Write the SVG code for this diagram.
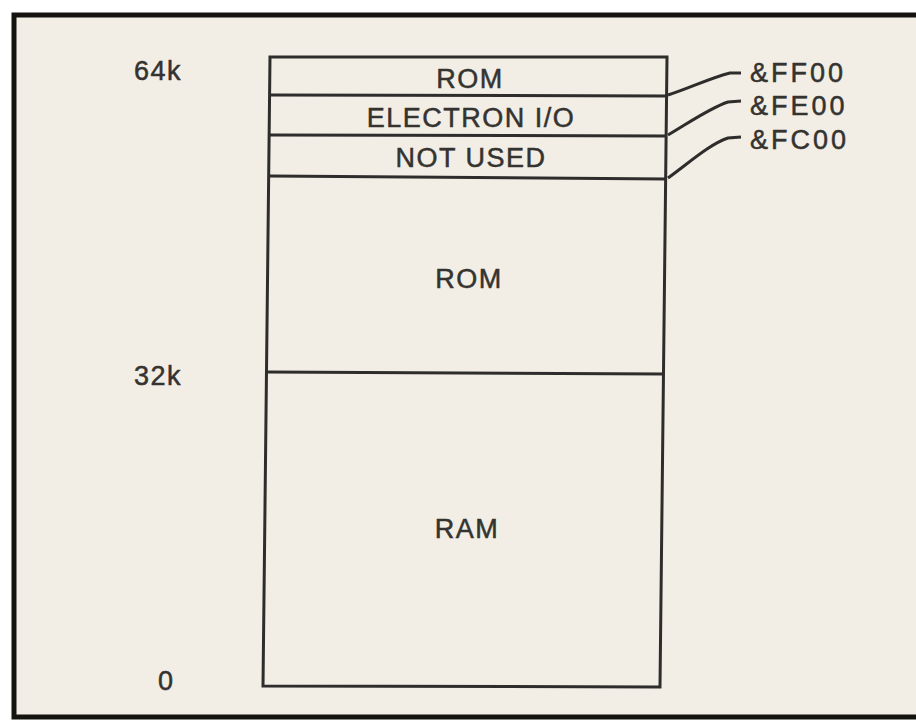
<svg xmlns="http://www.w3.org/2000/svg" width="916" height="721" viewBox="0 0 916 721">
<style>
.t{font-family:"Liberation Sans",Arial,sans-serif;font-size:27px;fill:#343330;stroke:#343330;stroke-width:0.5;letter-spacing:1.5px}
.m{text-anchor:middle}
.ln{fill:none;stroke:#2e2d2b;stroke-width:3}
</style>
<rect x="0" y="0" width="916" height="721" fill="#ffffff"/>
<rect x="14" y="15" width="910" height="702" fill="#f2eee6" stroke="#151310" stroke-width="5"/>
<g id="memory-box">
<path class="ln" d="M270,57 L667,57 L660,687 L263,686 Z"/>
</g>
<g id="rom-top"><line class="ln" x1="270" y1="95" x2="667" y2="96"/><text class="t m" x="470" y="88">ROM</text></g>
<g id="electron-io"><line class="ln" x1="270" y1="135" x2="667" y2="136"/><text class="t m" x="471" y="127">ELECTRON I/O</text></g>
<g id="not-used"><line class="ln" x1="270" y1="176" x2="666" y2="179"/><text class="t m" x="471" y="167">NOT USED</text></g>
<g id="rom"><line class="ln" x1="267" y1="372" x2="664" y2="374"/><text class="t m" x="469" y="288">ROM</text></g>
<g id="ram"><text class="t m" x="467" y="538">RAM</text></g>
<g id="axis-labels">
<text class="t" x="134" y="80">64k</text>
<text class="t" x="134" y="385">32k</text>
<text class="t" x="158" y="690">0</text>
</g>
<g id="connectors">
<path class="ln" d="M668,95 C690,88 710,78 730,73 L741,73"/>
<path class="ln" d="M668,135 C690,122 710,108 728,102 L741,101"/>
<path class="ln" d="M668,178 C690,162 710,144 728,138 L741,137"/>
</g>
<g id="address-labels">
<text class="t" x="750" y="82" style="letter-spacing:3px">&amp;FF00</text>
<text class="t" x="750" y="115" style="letter-spacing:3px">&amp;FE00</text>
<text class="t" x="750" y="149" style="letter-spacing:3px">&amp;FC00</text>
</g>
</svg>
